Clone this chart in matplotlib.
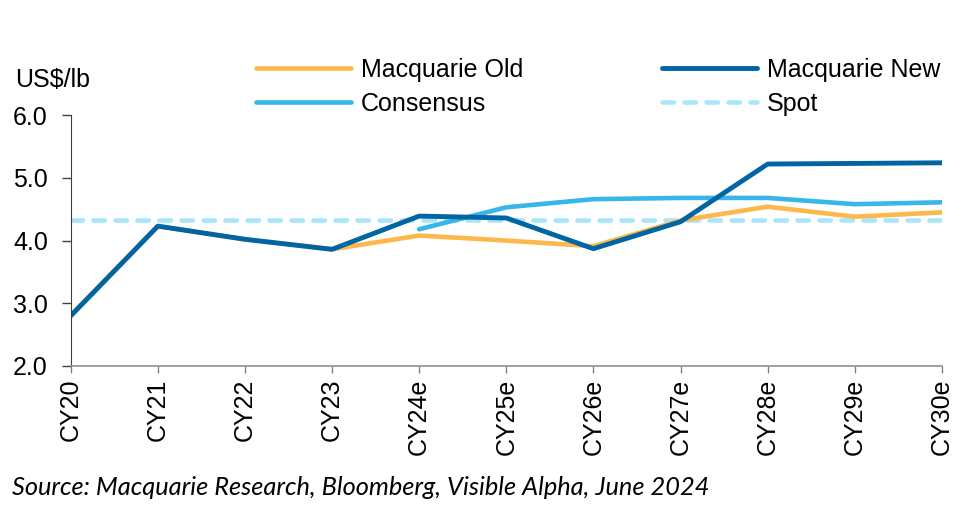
import numpy as np
import matplotlib
matplotlib.use("Agg")
import matplotlib.pyplot as plt

plt.rcParams['font.family'] = ['Liberation Sans', 'DejaVu Sans']

years = ["CY20", "CY21", "CY22", "CY23", "CY24e", "CY25e", "CY26e",
         "CY27e", "CY28e", "CY29e", "CY30e"]
macq_old = [2.80, 4.23, 4.02, 3.86, 4.08, 4.00, 3.91, 4.32, 4.54, 4.38, 4.45]
macq_new = [2.80, 4.23, 4.02, 3.86, 4.39, 4.36, 3.87, 4.30, 5.22, 5.23, 5.24]
consensus = [None, None, None, None, 4.18, 4.53, 4.66, 4.68, 4.68, 4.58, 4.61]
spot = 4.33

x = np.arange(len(years))
cons = np.array([np.nan if v is None else v for v in consensus], dtype=float)

fig = plt.figure(figsize=(9.66, 5.14), dpi=100)
ax = fig.add_axes([0.0732, 0.288, 0.9018, 0.488])

l_old, = ax.plot(x, macq_old, color="#FDB84C", lw=3.3, solid_capstyle="round", label="Macquarie Old")
l_cons, = ax.plot(x, cons, color="#38B6E9", lw=3.3, solid_capstyle="round", label="Consensus")
l_spot, = ax.plot(x, [spot] * len(x), color="#A9E5FB", lw=3.3, ls=(0, (2.5, 2.3)),
                  dash_capstyle="round", label="Spot")
l_new, = ax.plot(x, macq_new, color="#0065A2", lw=3.5, solid_capstyle="round", label="Macquarie New")
l_spot.set_zorder(1.5)

ax.set_xlim(0, len(x) - 1)
ax.set_ylim(2.0, 6.0)
ax.set_yticks([2.0, 3.0, 4.0, 5.0, 6.0])
ax.set_yticklabels(["2.0", "3.0", "4.0", "5.0", "6.0"], fontsize=18)
ax.set_xticks(x)
ax.set_xticklabels(years, rotation=90, fontsize=18)
ax.tick_params(axis="y", direction="out", length=6.5, width=1, color="#404040", pad=10)
ax.tick_params(axis="x", direction="out", length=5, width=1, color="#808080", pad=4)
for s in ["top", "right"]:
    ax.spines[s].set_visible(False)
ax.spines["left"].set_color("#404040")
ax.spines["bottom"].set_color("#909090")
ax.spines["bottom"].set_linewidth(1.2)

fig.text(0.016, 0.845, "US$/lb", fontsize=18, va="center", ha="left")

fig.legend([l_old, l_cons, l_new, l_spot],
           ["Macquarie Old", "Consensus", "Macquarie New", "Spot"],
           ncol=2, loc="upper left", bbox_to_anchor=(0.247, 0.921),
           frameon=False, fontsize=18, handlelength=3.8, handletextpad=0.4,
           columnspacing=5.55, labelspacing=0.4, borderpad=0.2)

fig.text(0.012, 0.052, "Source: Macquarie Research, Bloomberg, Visible Alpha, June 2024",
         fontsize=18.3, family="Lato", style="italic", va="center", ha="left")

fig.savefig("out.png", dpi=100)
